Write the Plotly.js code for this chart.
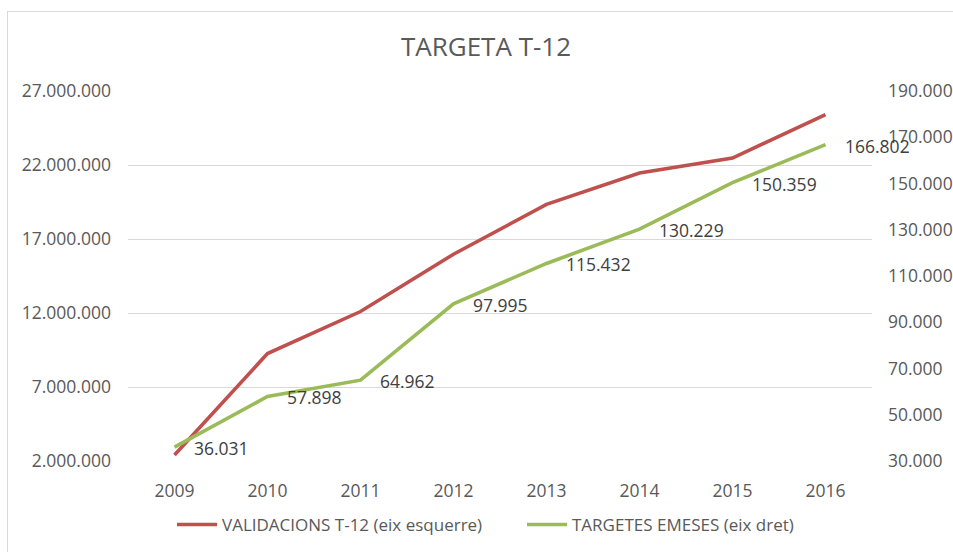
<!DOCTYPE html>
<html>
<head>
<meta charset="utf-8">
<script src="https://cdn.plot.ly/plotly-3.0.1.min.js"></script>
<style>
  html, body { margin: 0; padding: 0; background: #fff; overflow: hidden; }
  #wrap { position: relative; width: 953px; height: 552px; }
  #chart { position: absolute; left: 0; top: 0; width: 953px; height: 552px; }
  #frame { position: absolute; left: 7px; top: 11px; width: 980px; height: 600px;
           border: 1px solid #d9d9d9; pointer-events: none; }
</style>
</head>
<body>
<div id="wrap">
  <div id="chart"></div>
  <div id="frame"></div>
</div>
<script>
const years = ['2009', '2010', '2011', '2012', '2013', '2014', '2015', '2016'];
const validacions = [2400000, 9260000, 12100000, 15970000, 19340000, 21460000, 22470000, 25400000];
const targetes = [36031, 57898, 64962, 97995, 115432, 130229, 150359, 166802];
const leftTicks = [2000000, 7000000, 12000000, 17000000, 22000000, 27000000];
const rightTicks = [30000, 50000, 70000, 90000, 110000, 130000, 150000, 170000, 190000];
const nameRed = 'VALIDACIONS T-12 (eix esquerre)';
const nameGreen = 'TARGETES EMESES (eix dret)';

function fmt(v) {
  return String(v).replace(/\B(?=(\d{3})+(?!\d))/g, '.');
}

const FONT = 'Open Sans, sans-serif';
const TICK = 17.5;

const traces = [
  {
    x: years, y: validacions, name: nameRed, type: 'scatter', mode: 'lines',
    line: { color: '#C0504D', width: 3.6 }, yaxis: 'y', hoverinfo: 'skip',
    legend: 'legend'
  },
  {
    x: years, y: targetes, name: nameGreen, type: 'scatter', mode: 'lines',
    line: { color: '#9BBB59', width: 3.6 }, yaxis: 'y2', hoverinfo: 'skip',
    legend: 'legend2'
  }
];

const annotations = years.map((yr, i) => ({
  x: i, y: targetes[i], xref: 'x', yref: 'y2',
  text: fmt(targetes[i]), showarrow: false,
  xanchor: 'left', yanchor: 'middle', xshift: 17, yshift: -1,
  font: { family: FONT, size: TICK, color: '#404040' }
}));

const legendBase = {
  orientation: 'h', xref: 'container', yref: 'container',
  xanchor: 'left', y: 1 - 525 / 552, yanchor: 'middle',
  font: { family: FONT, size: 17, color: '#595959' },
  itemwidth: 40, bgcolor: 'rgba(0,0,0,0)'
};

const layout = {
  width: 953, height: 552,
  margin: { l: 128, r: 81, t: 91, b: 91 },
  paper_bgcolor: '#ffffff', plot_bgcolor: '#ffffff',
  title: {
    text: 'TARGETA T-12',
    font: { family: FONT, size: 26, color: '#595959' },
    x: 486 / 953, xanchor: 'center', xref: 'container',
    y: 1 - 47 / 552, yanchor: 'middle', yref: 'container'
  },
  showlegend: true,
  legend: Object.assign({}, legendBase, { x: 172 / 953 }),
  legend2: Object.assign({}, legendBase, { x: 522 / 953 }),
  xaxis: {
    type: 'category', range: [-0.5, 7.5], showgrid: false, zeroline: false,
    showline: false, ticks: '', ticklabelstandoff: 17,
    tickfont: { family: FONT, size: TICK, color: '#595959' }
  },
  yaxis: {
    range: [2000000, 27000000], tickvals: leftTicks, ticktext: leftTicks.map(fmt),
    showgrid: true, gridcolor: '#d9d9d9', gridwidth: 1, zeroline: false,
    showline: false, ticks: '', ticklabelstandoff: 16,
    tickfont: { family: FONT, size: TICK, color: '#595959' }
  },
  yaxis2: {
    range: [30000, 190000], tickvals: rightTicks, ticktext: rightTicks.map(fmt),
    overlaying: 'y', side: 'right', showgrid: false, zeroline: false,
    showline: false, ticks: '', ticklabelstandoff: 15,
    tickfont: { family: FONT, size: TICK, color: '#595959' }
  },
  annotations: annotations
};

Plotly.newPlot('chart', traces, layout, { staticPlot: true, displayModeBar: false });
</script>
</body>
</html>
